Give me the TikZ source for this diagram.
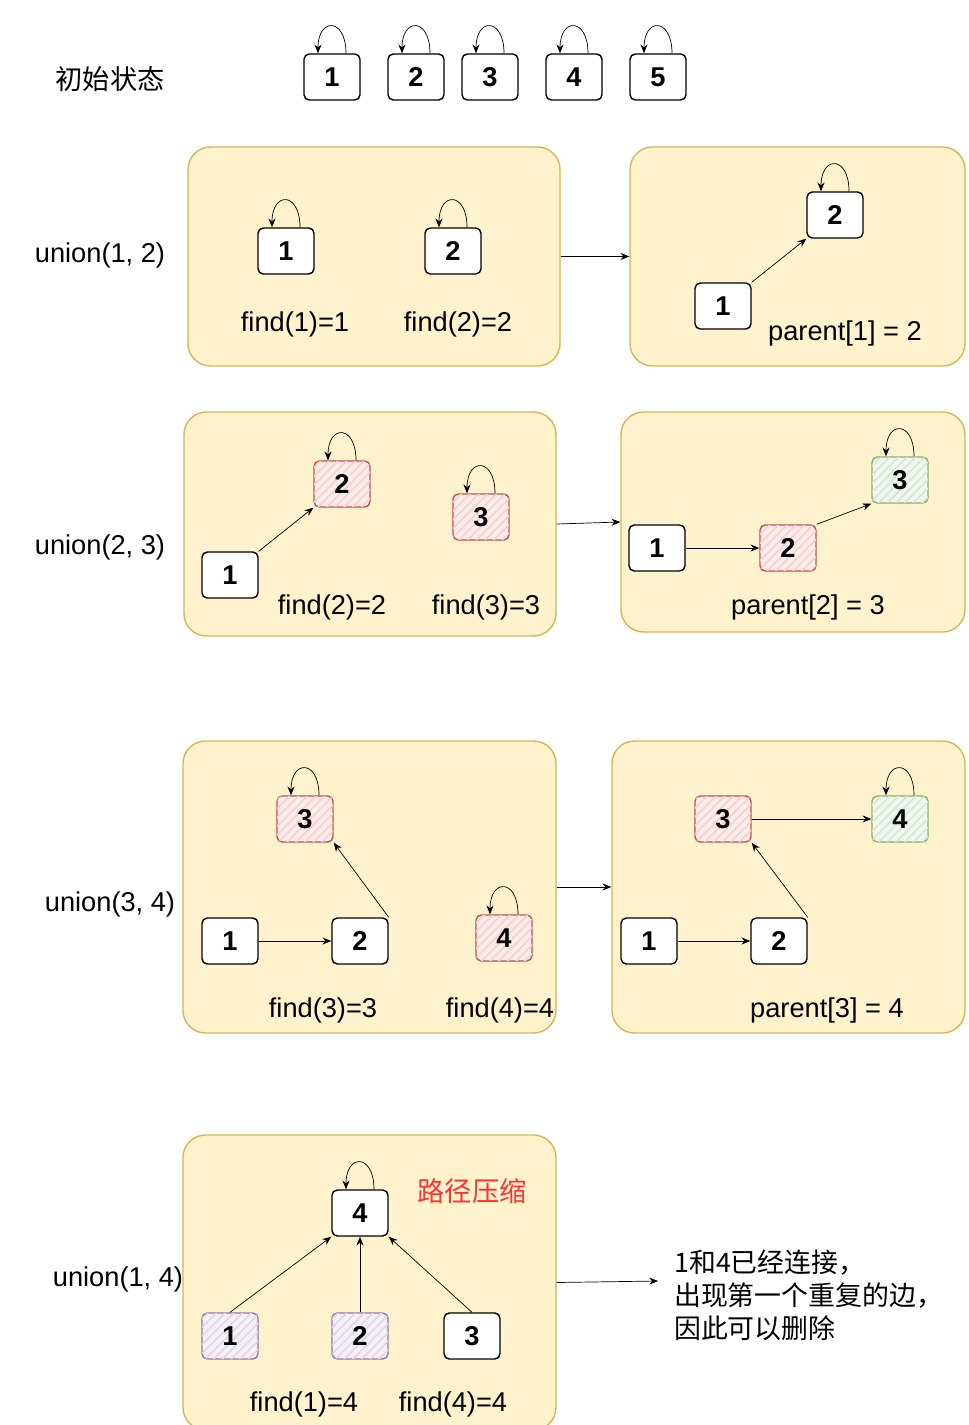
\documentclass[tikz,border=0pt]{standalone}
\usepackage{fontspec}
\setmainfont{Liberation Sans}
\newfontfamily\cjk{Noto Sans CJK SC}
\usetikzlibrary{fit,arrows.meta,patterns.meta}

\definecolor{boxfill}{HTML}{FFF2CC}
\definecolor{boxline}{HTML}{D6B656}
\definecolor{redfill}{HTML}{F8CECC}
\definecolor{redline}{HTML}{B85450}
\definecolor{greenfill}{HTML}{D5E8D4}
\definecolor{greenline}{HTML}{82B366}
\definecolor{purplefill}{HTML}{E1D5E7}
\definecolor{purpleline}{HTML}{9673A6}
\definecolor{notered}{HTML}{FF3333}

\tikzset{
    elem/.style={draw, thick, rounded corners=3pt, fill=white, inner sep=0pt,
        minimum width=1.12cm, minimum height=0.92cm, font=\bfseries\fontsize{15.5}{18}\selectfont},
    hatch/.style={postaction={pattern={Lines[angle=45,distance=3.5pt,line width=0.9pt]}, pattern color=#1}},
    redelem/.style={elem, draw=redline, fill=redfill!35, hatch=redfill},
    greenelem/.style={elem, draw=greenline, fill=greenfill!35, hatch=greenfill},
    purpleelem/.style={elem, draw=purpleline, fill=purplefill!35, hatch=purplefill},
    cont/.style={draw=boxline, fill=boxfill, thick, rounded corners=0.45cm, inner sep=0pt},
}
\newcommand{\selfloop}[1]{%
    \draw[->] ([xshift=0.28cm]#1.north) .. controls +(0,0.72cm) and +(0,0.72cm) .. ([xshift=-0.28cm]#1.north);}

\begin{document}
\begin{tikzpicture}[x=0.02cm, y=-0.02cm, >={Stealth[length=5pt,width=4pt]},
    font=\fontsize{15.5}{18}\selectfont]
\useasboundingbox (0,0) rectangle (968,1425);

% Initial state
\node (init) at (110,79) {\cjk 初始状态};
\foreach \i/\x in {1/332, 2/416, 3/490, 4/574, 5/658} {
    \node[elem] (s\i) at (\x,77) {\i};
    \selfloop{s\i}
}

% union(1, 2)
\node (lu12) at (100,255) {union(1, 2)};
\node[cont, fit={(188,147) (560,366)}] (u12a) {};
\node[cont, fit={(630,147) (965,366)}] (u12b) {};
\node[elem] (a1) at (286,251) {1};
\node[elem] (a2) at (453,251) {2};
\selfloop{a1}
\selfloop{a2}
\node (fa1) at (295,324) {find(1)=1};
\node (fa2) at (458,324) {find(2)=2};
\draw[->] (u12a.east) -- (u12b.west);
\node[elem] (b2) at (835,215) {2};
\node[elem] (b1) at (723,306) {1};
\selfloop{b2}
\draw[->] (b1.north east) -- (b2.south west);
\node (pb) at (845,333) {parent[1] = 2};

% union(2, 3)
\node (lu23) at (100,547) {union(2, 3)};
\node[cont, fit={(184,412) (556,636)}] (u23a) {};
\node[cont, fit={(621,412) (965,632)}] (u23b) {};
\node[redelem] (c2) at (342,484) {2};
\node[elem] (c1) at (230,575) {1};
\node[redelem] (c3) at (481,517) {3};
\selfloop{c2}
\selfloop{c3}
\draw[->] (c1.north east) -- (c2.south west);
\node (fc2) at (332,607) {find(2)=2};
\node (fc3) at (486,607) {find(3)=3};
\draw[->] (u23a.east) -- (u23b.west);
\node[elem] (d1) at (657,548) {1};
\node[redelem] (d2) at (788,548) {2};
\node[greenelem] (d3) at (900,480) {3};
\selfloop{d3}
\draw[->] (d1.east) -- (d2.west);
\draw[->] (d2.north east) -- (d3.south west);
\node (pd) at (808,607) {parent[2] = 3};

% union(3, 4)
\node (lu34) at (110,904) {union(3, 4)};
\node[cont, fit={(183,741) (556,1033)}] (u34a) {};
\node[cont, fit={(612,741) (965,1033)}] (u34b) {};
\node[redelem] (e3) at (305,819) {3};
\node[elem] (e1) at (230,941) {1};
\node[elem] (e2) at (360,941) {2};
\node[redelem] (e4) at (504,938) {4};
\selfloop{e3}
\selfloop{e4}
\draw[->] (e1.east) -- (e2.west);
\draw[->] (e2.north east) -- (e3.south east);
\node (fe3) at (323,1010) {find(3)=3};
\node (fe4) at (500,1010) {find(4)=4};
\draw[->] (u34a.east) -- (u34b.west);
\node[redelem] (f3) at (723,819) {3};
\node[greenelem] (f4) at (900,819) {4};
\node[elem] (f1) at (649,941) {1};
\node[elem] (f2) at (779,941) {2};
\selfloop{f4}
\draw[->] (f3.east) -- (f4.west);
\draw[->] (f1.east) -- (f2.west);
\draw[->] (f2.north east) -- (f3.south east);
\node (pf) at (827,1010) {parent[3] = 4};

% union(1, 4)
\node[cont, fit={(183,1135) (556,1430)}] (u14) {};
\node (lu14) at (118,1279) {union(1, 4)};
\node[elem] (g4) at (360,1213) {4};
\node[purpleelem] (g1) at (230,1336) {1};
\node[purpleelem] (g2) at (360,1336) {2};
\node[elem] (g3) at (472,1336) {3};
\selfloop{g4}
\draw[->] (g1.north) -- (g4.south west);
\draw[->] (g2.north) -- (g4.south);
\draw[->] (g3.north) -- (g4.south east);
\node[text=notered] (pc) at (472,1191) {\cjk 路径压缩};
\node (fg1) at (304,1404) {find(1)=4};
\node (fg4) at (453,1404) {find(4)=4};
\coordinate (tip) at (658,1281);
\draw[->] (u14.east) -- (tip);
\node[anchor=west, align=left, font=\cjk\fontsize{15.3}{18.7}\selectfont] (note) at (668,1295)
    {1和4已经连接，\\出现第一个重复的边，\\因此可以删除};
\end{tikzpicture}
\end{document}
